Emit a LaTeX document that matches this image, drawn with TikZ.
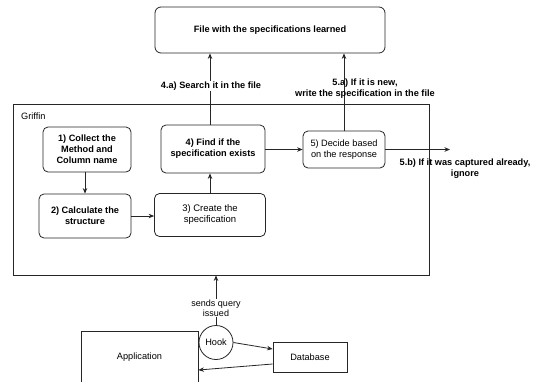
\documentclass[tikz,border=0pt]{standalone}
\usepackage{fontspec}
\setmainfont{Liberation Sans}
\usetikzlibrary{arrows.meta,calc}
\begin{document}
\begin{tikzpicture}[x=1pt,y=-1pt,
  base/.style={draw=black!85, line width=0.8pt, align=center, inner sep=0pt},
  bbox/.style={base, rounded corners=5pt, font=\fontsize{9.2}{11}\selectfont\bfseries},
  nbox/.style={base, rounded corners=5pt, font=\fontsize{9.2}{11}\selectfont},
  plainbox/.style={base, font=\fontsize{9.2}{11}\selectfont},
  arr/.style={draw=black!85, line width=0.8pt, -{Stealth[length=5.5pt,width=4.5pt]}},
  blbl/.style={align=center, inner sep=1pt, font=\fontsize{9.2}{11}\selectfont\bfseries},
  nlbl/.style={align=center, inner sep=1pt, font=\fontsize{9}{10}\selectfont}
]
\useasboundingbox (0,0) rectangle (535,381);
\clip (0,0) rectangle (535,381);
\fill[white] (0,0) rectangle (535,381);

% nodes
\node[bbox, rounded corners=6pt, minimum width=230pt, minimum height=46pt] (file) at (270,30) {File with the specifications learned};
\node[plainbox, minimum width=416pt, minimum height=171pt] (griffin) at (221,189.5) {};
\node[nlbl, anchor=west, font=\fontsize{9.2}{11}\selectfont] (glabel) at (20,116) {Griffin};
\node[bbox, minimum width=88pt, minimum height=45pt] (b1) at (87,149.5) {1) Collect the\\Method and\\Column name};
\node[bbox, minimum width=104pt, minimum height=48pt] (b4) at (213,149) {4) Find if the\\specification exists};
\node[nbox, minimum width=82pt, minimum height=37pt] (b5) at (344,149.5) {5) Decide based\\on the response};
\node[bbox, minimum width=92pt, minimum height=44pt] (b2) at (85,216) {2) Calculate the\\structure};
\node[nbox, minimum width=111pt, minimum height=43pt, font=\fontsize{9.5}{11}\selectfont] (b3) at (210,215) {3) Create the\\specification};
\node[plainbox, circle, minimum size=34pt] (hook) at (216,342.5) {Hook};
\node[plainbox, minimum width=117pt, minimum height=52pt] (app) at (139.5,357) {Application};
\node[plainbox, minimum width=74pt, minimum height=30pt] (db) at (310,357) {Database};
\coordinate (end5) at (450,149.5);

% connectors
\draw[arr] (b2.north |- b1.south) -- (b2.north);
\draw[arr] (b2.east) -- (b3.west |- b2.east);
\draw[arr] (b3.north) -- (b3.north |- b4.south);
\draw[arr] (b3.north |- b4.north) -- (b3.north |- file.south);
\draw[arr] (b4.east |- b5.west) -- (b5.west);
\draw[arr] (b5.north) -- (b5.north |- file.south);
\draw[arr] (b5.east) -- (end5);
\draw[arr] (hook.north) -- (hook.north |- griffin.south);
\draw[arr] (hook.east) -- ($(db.west)+(0,-8)$);
\draw[arr] ($(db.west)+(0,7)$) -- ($(app.east)+(0,13)$);

% labels
\node[blbl, fill=white] (l4a) at (211,86) {4.a) Search it in the file};
\node[blbl] (l5a) at (365,88.5) {5.a) If it is new,\\write the specification in the file};
\node[blbl] (l5b) at (465,168.5) {5.b) If it was captured already,\\ignore};
\node[nlbl, fill=white] (lq) at (216,308) {sends query\\issued};
\end{tikzpicture}
\end{document}
